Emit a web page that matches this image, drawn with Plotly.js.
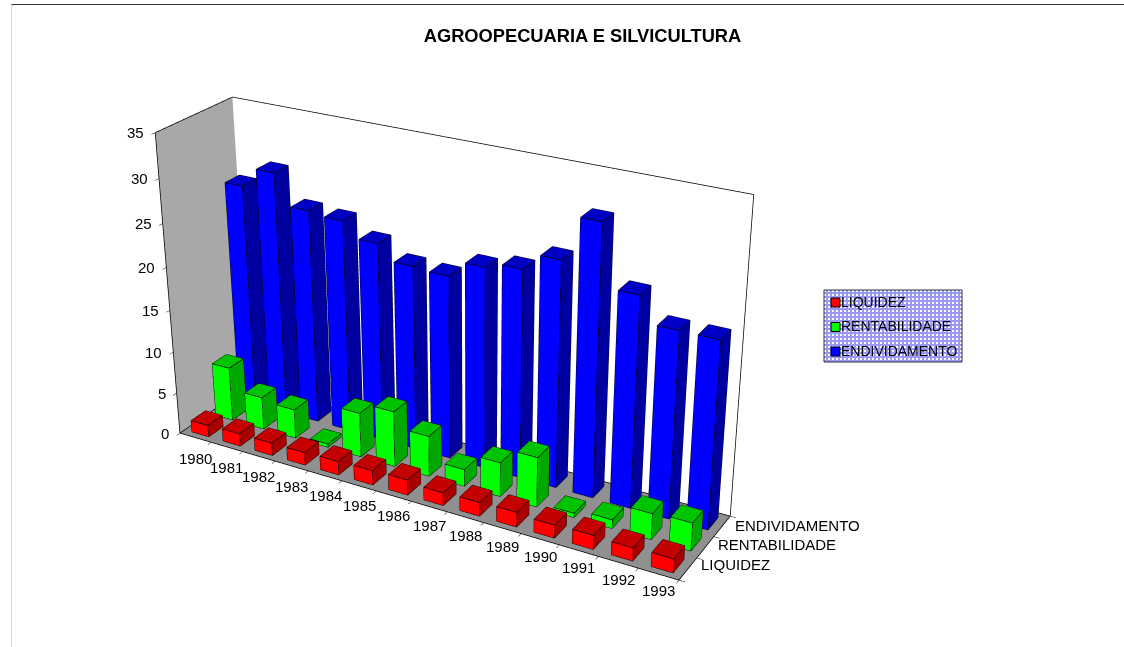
<!DOCTYPE html>
<html><head><meta charset="utf-8">
<script src="https://cdn.plot.ly/plotly-3.0.1.min.js"></script>
<style>html,body{margin:0;padding:0;background:#fff;overflow:hidden;width:1124px;height:647px}
#chart{position:absolute;left:-790px;top:-404px;width:2529px;height:1456px}</style>
</head><body><div id="chart"></div>
<script>
const years = ['1980','1981','1982','1983','1984','1985','1986','1987','1988','1989','1990','1991','1992','1993'];
const seriesNames = ['LIQUIDEZ','RENTABILIDADE','ENDIVIDAMENTO'];
const liquidez = [1.4,1.5,1.5,1.5,1.6,1.7,1.8,1.5,1.6,1.7,1.5,1.6,1.5,1.6];
const rentabilidade = [6.5,3.9,3.5,0.4,5.3,6.6,4.8,2.0,4.0,5.8,0.5,1.0,3.0,3.2];
const endividamento = [26.5,28.8,25.3,25,23.3,21.6,21.4,23.3,24,25.9,30.8,24,21.2,21.2];
const zTicks = [0,5,10,15,20,25,30,35];
const faceColors = [
  {front:'#ff0000',top:'#c40000',side:'#a80000'},
  {front:'#00ff00',top:'#00c400',side:'#00a800'},
  {front:'#0000ff',top:'#0000c4',side:'#0000a0'}
];
const barW = 0.54, barD = 0.6;
const OX=790,OY=404,LW=2529,LH=1456;
const px=x=>(x+OX)/LW, py=y=>1-(y+OY)/LH;
const values = [liquidez,rentabilidade,endividamento];
const traces = [];
values.forEach((vals,s)=>{
  const X=[],Y=[],Z=[],I=[],J=[],K=[],FC=[],ex=[],ey=[],ez=[];
  vals.forEach((h,c)=>{
    const x0=c+.5-barW/2,x1=c+.5+barW/2,y0=s+.5-barD/2,y1=s+.5+barD/2,b=X.length;
    [[x0,y0,0],[x1,y0,0],[x1,y1,0],[x0,y1,0],[x0,y0,h],[x1,y0,h],[x1,y1,h],[x0,y1,h]].forEach(p=>{X.push(p[0]);Y.push(p[1]);Z.push(p[2]);});
    const col=faceColors[s];
    [[0,1,5,col.front],[0,5,4,col.front],[1,2,6,col.side],[1,6,5,col.side],[4,5,6,col.top],[4,6,7,col.top],
     [3,0,4,col.side],[3,4,7,col.side],[2,3,7,col.front],[2,7,6,col.front],[0,1,2,col.top],[0,2,3,col.top]].forEach(t=>{I.push(b+t[0]);J.push(b+t[1]);K.push(b+t[2]);FC.push(t[3]);});
    [[0,1],[1,2],[2,3],[3,0],[4,5],[5,6],[6,7],[7,4],[0,4],[1,5],[2,6],[3,7]].forEach(e=>{
      ex.push(X[b+e[0]],X[b+e[1]],null);ey.push(Y[b+e[0]],Y[b+e[1]],null);ez.push(Z[b+e[0]],Z[b+e[1]],null);
    });
  });
  traces.push({type:'mesh3d',x:X,y:Y,z:Z,i:I,j:J,k:K,facecolor:FC,flatshading:true,showlegend:false,hoverinfo:'skip',
    lighting:{ambient:1,diffuse:0,specular:0,roughness:1,fresnel:0},showscale:false});
  traces.push({type:'scatter3d',mode:'lines',x:ex,y:ey,z:ez,line:{color:'#000',width:1.5},showlegend:false,hoverinfo:'skip'});
});
seriesNames.forEach((n,s)=>{
  traces.push({type:'scatter3d',mode:'markers',name:n,legendgroup:n,x:[0],y:[s],z:[null],
    marker:{symbol:'square',size:1,color:'rgba(0,0,0,0)',line:{color:'rgba(0,0,0,0)',width:0}},showlegend:true,hoverinfo:'skip'});
});
const nx=years.length,ny=seriesNames.length,zm=35;
traces.push({type:'scatter3d',mode:'lines',showlegend:false,hoverinfo:'skip',line:{color:'#000',width:1.5},
  x:[0,0,nx,nx,null,0,0,null,0,0,nx,nx,0,0],
  y:[0,ny,ny,ny,null,0,0,null,0,ny,ny,0,0,ny],
  z:[zm,zm,zm,0,null,0,zm,null,0,0,0,0,0,0]});
const fam='Liberation Sans, Arial, sans-serif';
const font={family:fam,size:15,color:'#000'};
const ann=[];
years.forEach((y,i)=>ann.push({x:i+.5,y:0,z:0,text:y,showarrow:false,font,xanchor:'center',yanchor:'middle',xshift:0,yshift:-21+i*0.35}));
const yShiftY=[4,3,1];
seriesNames.forEach((n,i)=>ann.push({x:nx,y:i+.5,z:0,text:n,showarrow:false,font,xanchor:'left',yanchor:'middle',xshift:11,yshift:yShiftY[i]}));
zTicks.forEach(t=>ann.push({x:0,y:0,z:t,text:String(t),showarrow:false,font,xanchor:'right',yanchor:'middle',xshift:-9}));
const ax={showgrid:false,zeroline:false,showspikes:false,showticklabels:false,showline:true,linecolor:'#000',linewidth:1.5,ticks:'outside',ticklen:5,tickcolor:'#000',title:{text:''},showbackground:true};
const patt="data:image/svg+xml;utf8,"+encodeURIComponent('<svg xmlns="http://www.w3.org/2000/svg" width="138" height="72"><defs><pattern id="p" width="4" height="4" patternUnits="userSpaceOnUse"><rect width="4" height="4" fill="#9a9af6"/><rect width="2" height="2" fill="#ffffff"/></pattern></defs><rect width="138" height="72" fill="url(#p)"/></svg>');
const swatch=(i)=>({type:'rect',xref:'paper',yref:'paper',x0:px(831),x1:px(840),y0:py(298+i*24.5),y1:py(307+i*24.5),fillcolor:faceColors[i].front,line:{color:'#000',width:1},layer:'above'});
const layout={
  width:LW,height:LH,margin:{l:0,r:0,t:0,b:0},paper_bgcolor:'#fff',showlegend:true,
  title:{text:'<b>AGROOPECUARIA E SILVICULTURA</b>',font:{family:fam,size:18.3,color:'#000'},x:px(582.5),xanchor:'center',y:py(35.5),yanchor:'middle'},
  legend:{x:px(816),y:py(285.5),xanchor:'left',yanchor:'top',bgcolor:'rgba(0,0,0,0)',borderwidth:0,font:{family:fam,size:14,color:'#000'},traceorder:'grouped',tracegroupgap:3.5,itemsizing:'trace',itemwidth:30,indentation:-15},
  images:[{source:patt,xref:'paper',yref:'paper',x:px(824),y:py(290),sizex:138/LW,sizey:72/LH,sizing:'stretch',xanchor:'left',yanchor:'top',layer:'below'}],
  shapes:[
    {type:'line',xref:'paper',yref:'paper',x0:px(11),x1:px(1124),y0:py(4.5),y1:py(4.5),line:{color:'#333',width:1}},
    {type:'line',xref:'paper',yref:'paper',x0:px(11.5),x1:px(11.5),y0:py(647),y1:py(4.5),line:{color:'#d8d8d8',width:1}},
    {type:'rect',xref:'paper',yref:'paper',x0:px(824),x1:px(962),y0:py(290),y1:py(362),line:{color:'#333',width:1},fillcolor:'rgba(0,0,0,0)'},
    swatch(0),swatch(1),swatch(2)
  ],
  scene:{domain:{x:[0,1],y:[0,1]},bgcolor:'rgba(0,0,0,0)',aspectmode:'manual',aspectratio:{x:1.665,y:0.37,z:0.977},
    camera:{eye:{x:2.27,y:-3.90,z:2.15},center:{x:0.08,y:0.045,z:0.0},up:{x:0,y:0,z:1},projection:{type:'perspective'}},
    xaxis:Object.assign({},ax,{range:[0,nx],tick0:0,dtick:1,backgroundcolor:'#a8a8a8'}),
    yaxis:Object.assign({},ax,{range:[0,ny],tick0:0,dtick:1,backgroundcolor:'#ffffff'}),
    zaxis:Object.assign({},ax,{range:[0,zm],tick0:0,dtick:5,backgroundcolor:'#909090'}),
    annotations:ann}
};
Plotly.newPlot('chart',traces,layout,{displayModeBar:false});
</script></body></html>
